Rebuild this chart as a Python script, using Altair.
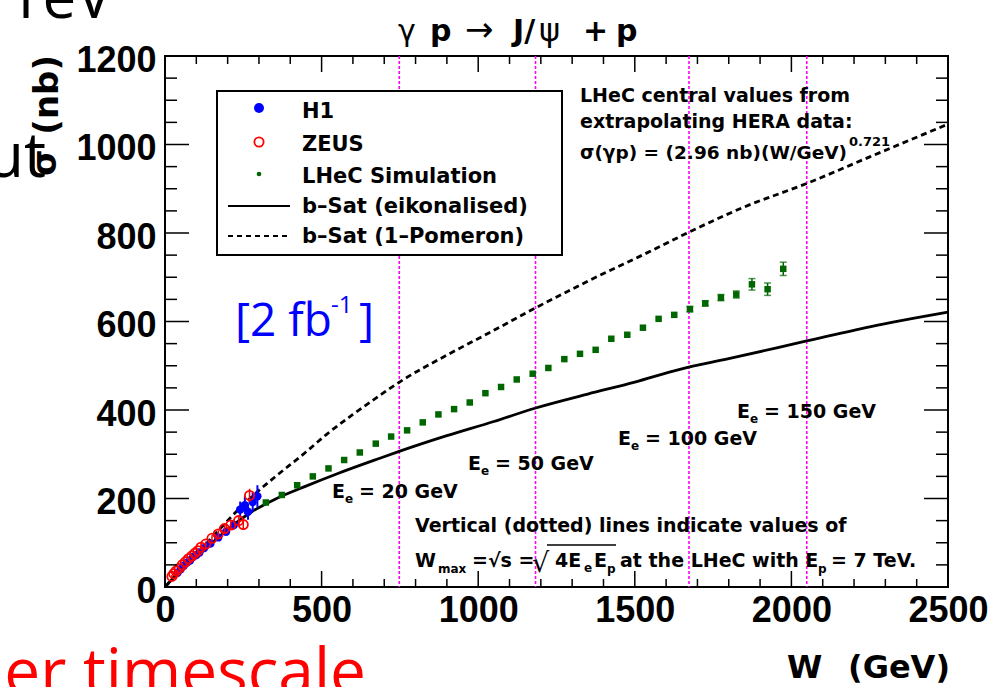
import altair as alt
import pandas as pd

# ---------------- data ----------------
wmax_W = [748, 1183, 1673, 2049]          # W_max for E_e = 20, 50, 100, 150 GeV

eik_W = [0, 10, 25, 50, 75, 100, 150, 200, 277, 350, 450, 550, 686, 750, 900, 1050,
         1181, 1350, 1500, 1644, 1800, 2049, 2250, 2500]
eik_sig = [0, 8, 19, 37, 53, 68, 100, 130, 170, 198, 228, 256, 291, 307, 342, 374,
           404, 436, 463, 492, 516, 556, 588, 621]

pom_W = [0, 10, 25, 50, 75, 100, 150, 200, 277, 350, 450, 516, 600, 686, 746, 900,
         1050, 1181, 1350, 1559, 1676, 1850, 2049, 2250, 2500]
pom_sig = [0, 8, 20, 38, 55, 72, 112, 150, 204, 248, 305, 345, 390, 433, 462, 524,
           580, 630, 691, 762, 803, 859, 912, 972, 1046]

lhec_W = [322, 373, 422, 472, 522, 572, 622, 673, 722, 773, 823, 873, 923, 973, 1023,
          1073, 1123, 1174, 1224, 1275, 1325, 1375, 1425, 1476, 1526, 1576, 1626, 1676,
          1725, 1775, 1824, 1874, 1924, 1974]
lhec_sig = [191, 208, 230, 250, 268, 287, 304, 324, 340, 354, 372, 390, 402, 417, 438,
            452, 469, 482, 495, 515, 527, 536, 561, 570, 586, 606, 615, 628, 641, 654,
            661, 684, 673, 719]
lhec_err = [3, 3, 3, 3, 3, 3, 3, 3, 3, 3, 3, 3, 3, 3, 3, 3, 4, 4, 4, 4, 4, 4, 5, 5, 5,
            5, 5, 6, 6, 7, 8, 13, 14, 15]

h1_W = [40, 50, 60, 70, 80, 90, 100, 110, 125, 145, 170, 195, 220, 240, 255, 265, 280, 295]
h1_sig = [32, 40, 48, 55, 60, 68, 72, 78, 88, 98, 112, 125, 140, 175, 185, 170, 192, 205]
h1_err = [4, 4, 4, 5, 5, 5, 6, 6, 6, 7, 8, 9, 10, 18, 20, 18, 22, 25]

zeus_W = [22, 28, 35, 45, 55, 65, 75, 85, 95, 105, 115, 130, 150, 170, 190, 210, 235, 250, 270]
zeus_sig = [24, 30, 36, 42, 50, 57, 64, 70, 76, 82, 90, 97, 110, 120, 132, 140, 150, 141, 207]
zeus_err = [3, 3, 3, 4, 4, 4, 5, 5, 5, 5, 6, 6, 7, 8, 9, 10, 12, 12, 15]

x_major = [0, 500, 1000, 1500, 2000, 2500]
x_minor = [v for v in range(0, 2501, 100) if v % 500]
y_major = [0, 200, 400, 600, 800, 1000, 1200]
y_minor = [v for v in range(0, 1201, 50) if v % 200]

# ---------------- layout ----------------
OX, OY = 165, 56        # page position of plot-area origin
PW, PH = 783, 531       # plot-area size
ROOT = "DejaVu Sans"
NUM = "Liberation Sans"

xs = alt.Scale(domain=[0, 2500], nice=False, zero=False)
ys = alt.Scale(domain=[0, 1200], nice=False, zero=False)
axX = alt.Axis(values=x_major, format="d", ticks=False, domain=False, grid=False, title=None,
               labelFont=NUM, labelFontWeight="bold", labelFontSize=36,
               labelColor="black", labelPadding=6, labelFlush=False, labelOverlap=False)
axY = alt.Axis(values=y_major, format="d", ticks=False, domain=False, grid=False, title=None,
               labelFont=NUM, labelFontWeight="bold", labelFontSize=36,
               labelColor="black", labelPadding=9, labelFlush=False, labelOverlap=False,
               labelOffset=4)


def X(f):
    return alt.X(f, type="quantitative", scale=xs, axis=axX)


def Y(f):
    return alt.Y(f, type="quantitative", scale=ys, axis=axY)


one = pd.DataFrame({"a": [0]})


def T(text, x, y, size, color="black", font=ROOT, weight="bold", align="left",
      angle=0):
    return alt.Chart(one).mark_text(
        text=text, font=font, fontSize=size, fontWeight=weight, color=color,
        align=align, baseline="alphabetic", angle=angle
    ).encode(x=alt.value(x - OX), y=alt.value(y - OY))


layers = []

# magenta W_max lines
wdf = pd.DataFrame({"W": wmax_W})
layers.append(alt.Chart(wdf).mark_rule(color="#ff00ff", strokeWidth=1.6,
                                       strokeDash=[3, 2]).encode(x=X("W")))

# b-Sat curves
layers.append(alt.Chart(pd.DataFrame({"W": pom_W, "s": pom_sig})).mark_line(
    color="black", strokeWidth=2.8, strokeDash=[6, 4], interpolate="monotone"
).encode(x=X("W"), y=Y("s")))
layers.append(alt.Chart(pd.DataFrame({"W": eik_W, "s": eik_sig})).mark_line(
    color="black", strokeWidth=2.8, interpolate="monotone"
).encode(x=X("W"), y=Y("s")))

# LHeC simulation
GREEN = "#006600"
ldf = pd.DataFrame({"W": lhec_W, "s": lhec_sig, "e": lhec_err})
ldf["lo"] = ldf["s"] - ldf["e"]
ldf["hi"] = ldf["s"] + ldf["e"]
layers.append(alt.Chart(ldf).mark_rule(color=GREEN, strokeWidth=1.5).encode(
    x=X("W"), y=Y("lo"), y2="hi"))
cap = ldf[ldf["e"] >= 6]
for col in ["lo", "hi"]:
    layers.append(alt.Chart(cap).mark_tick(color=GREEN, orient="horizontal", size=7,
                                           thickness=1.5).encode(x=X("W"), y=Y(col)))
layers.append(alt.Chart(ldf).mark_square(color=GREEN, size=42, opacity=1).encode(
    x=X("W"), y=Y("s")))

# HERA data
hdf = pd.DataFrame({"W": h1_W, "s": h1_sig, "e": h1_err})
hdf["lo"] = hdf["s"] - hdf["e"]
hdf["hi"] = hdf["s"] + hdf["e"]
zdf = pd.DataFrame({"W": zeus_W, "s": zeus_sig, "e": zeus_err})
zdf["lo"] = zdf["s"] - zdf["e"]
zdf["hi"] = zdf["s"] + zdf["e"]
layers.append(alt.Chart(hdf).mark_rule(color="blue", strokeWidth=2).encode(
    x=X("W"), y=Y("lo"), y2="hi"))
layers.append(alt.Chart(hdf).mark_point(shape="circle", filled=True, color="blue",
                                        size=70, opacity=1).encode(x=X("W"), y=Y("s")))
layers.append(alt.Chart(zdf).mark_rule(color="red", strokeWidth=1.5).encode(
    x=X("W"), y=Y("lo"), y2="hi"))
layers.append(alt.Chart(zdf).mark_point(shape="circle", filled=False, color="red",
                                        size=85, strokeWidth=1.8, opacity=1).encode(
    x=X("W"), y=Y("s")))

# axis ticks (ROOT style, inside, on all four sides)
for vals, L in [(x_major, 16), (x_minor, 8)]:
    d = pd.DataFrame({"v": vals})
    layers.append(alt.Chart(d).mark_rule(color="black", strokeWidth=1.5).encode(
        x=X("v"), y=alt.value(PH), y2=alt.value(PH - L)))
    layers.append(alt.Chart(d).mark_rule(color="black", strokeWidth=1.5).encode(
        x=X("v"), y=alt.value(0), y2=alt.value(L)))
for vals, L in [(y_major, 24), (y_minor, 12)]:
    d = pd.DataFrame({"v": vals})
    layers.append(alt.Chart(d).mark_rule(color="black", strokeWidth=1.5).encode(
        y=Y("v"), x=alt.value(0), x2=alt.value(L)))
    layers.append(alt.Chart(d).mark_rule(color="black", strokeWidth=1.5).encode(
        y=Y("v"), x=alt.value(PW), x2=alt.value(PW - L)))

# legend box
layers.append(alt.Chart(one).mark_rect(fill="white", stroke="black", strokeWidth=2).encode(
    x=alt.value(217 - OX), x2=alt.value(562 - OX), y=alt.value(91 - OY), y2=alt.value(255 - OY)))
layers.append(alt.Chart(one).mark_point(shape="circle", filled=True, color="blue", size=100,
                                        opacity=1).encode(x=alt.value(259 - OX), y=alt.value(108 - OY)))
layers.append(alt.Chart(one).mark_point(shape="circle", filled=False, color="red", size=85,
                                        strokeWidth=1.8, opacity=1).encode(
    x=alt.value(259 - OX), y=alt.value(142 - OY)))
layers.append(alt.Chart(one).mark_point(shape="circle", filled=True, color=GREEN, size=22,
                                        opacity=1).encode(x=alt.value(259 - OX), y=alt.value(174 - OY)))
layers.append(alt.Chart(one).mark_rule(color="black", strokeWidth=2).encode(
    x=alt.value(228 - OX), x2=alt.value(290 - OX), y=alt.value(206 - OY)))
layers.append(alt.Chart(one).mark_rule(color="black", strokeWidth=2, strokeDash=[5, 4]).encode(
    x=alt.value(228 - OX), x2=alt.value(290 - OX), y=alt.value(236 - OY)))
for txt, yb in [("H1", 118), ("ZEUS", 151), ("LHeC Simulation", 183),
                ("b\u2013Sat (eikonalised)", 213), ("b\u2013Sat (1\u2013Pomeron)", 243)]:
    layers.append(T(txt, 302, yb, 21))

# title
for txt, x0, w, sz in [("\u03b3", 398, "normal", 30), ("p", 430, "bold", 30),
                       ("\u2192", 465, "normal", 34), ("J/", 513, "bold", 30),
                       ("\u03c8", 539, "normal", 32),
                       ("+", 583, "bold", 30), ("p", 616, "bold", 30)]:
    layers.append(T(txt, x0, 41, sz, weight=w))

# axis titles
layers.append(T("W", 787, 678, 32))
layers.append(T("(GeV)", 950, 678, 32, align="right"))
layers.append(T("(nb)", 58, 55, 34, align="right", angle=270))
layers.append(T("\u03c3", 56, 176, 34, align="left", angle=270))

# text block top right
layers.append(T("LHeC central values from", 580, 102, 19))
layers.append(T("extrapolating  HERA data:", 580, 128, 19))
layers.append(T("\u03c3(\u03b3p) = (2.96 nb)(W/GeV)", 580, 159, 18.5))
layers.append(T("0.721", 849, 146, 13))

# E_e labels
for x0, yb, rest in [(332, 498, "=  20 GeV"), (468, 470, "=  50 GeV"),
                     (618, 445, "= 100 GeV"), (737, 418, "= 150 GeV")]:
    layers.append(T("E", x0, yb, 19))
    layers.append(T("e", x0 + 13, yb + 5, 12))
    layers.append(T(rest, x0 + 27, yb, 19))

# bottom explanation
layers.append(T("Vertical (dotted) lines indicate values of", 415, 532, 19))
layers.append(T("W", 415, 567, 19))
layers.append(T("max", 438, 573, 12))
layers.append(T("=\u221as =", 472, 567, 19))
layers.append(T("\u221a", 532, 572, 27, weight="normal"))
layers.append(alt.Chart(one).mark_rule(color="black", strokeWidth=1.5).encode(
    x=alt.value(547 - OX), x2=alt.value(616 - OX), y=alt.value(545 - OY)))
layers.append(T("4E", 555, 567, 19))
layers.append(T("e", 584, 572, 12))
layers.append(T("E", 594, 567, 19))
layers.append(T("p", 607, 573, 12))
layers.append(T("at the LHeC with E", 620, 567, 19))
layers.append(T("p", 818, 573, 12))
layers.append(T("= 7 TeV.", 831, 567, 19))

# slide overlay text
SLIDE = "Open Sans"
layers.append(T("TeV", 112, 18, 60, font=SLIDE, weight="normal", align="right"))
layers.append(T("ut", 46, 177, 62, font=SLIDE, weight="normal", align="right"))
layers.append(T("[2 fb", 235, 336, 46, color="#0000ff", font=SLIDE, weight="normal"))
layers.append(T("-1", 331, 313, 24, color="#0000ff", font=SLIDE, weight="normal"))
layers.append(T("]", 359, 336, 46, color="#0000ff", font=SLIDE, weight="normal"))
layers.append(T("er timescale", 366, 694, 64, color="#ff0000", font=SLIDE,
                weight="normal", align="right"))

chart = alt.layer(*layers).properties(
    width=PW, height=PH,
    padding={"left": OX, "top": OY, "right": 1007 - OX - PW, "bottom": 687 - OY - PH},
    autosize=alt.AutoSizeParams(type="none"),
    background="white",
).configure_view(stroke="black", strokeWidth=2)

chart.save("out.html", embed_options={"renderer": "svg", "actions": False})
